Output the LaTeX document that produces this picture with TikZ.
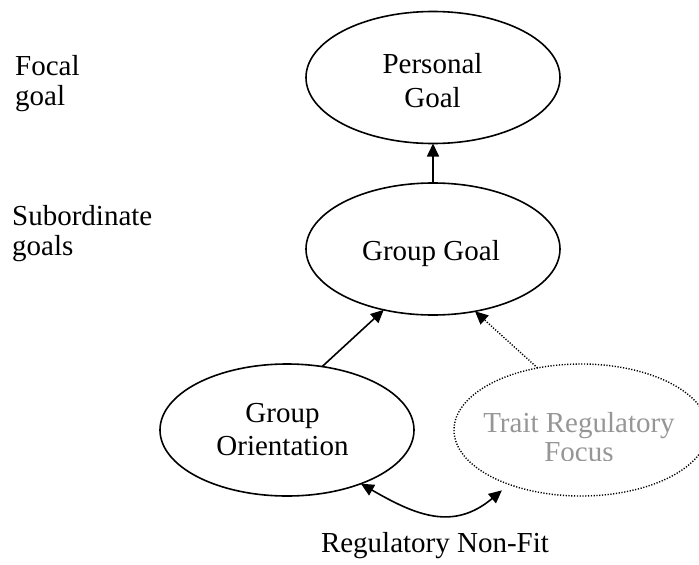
\documentclass[tikz,border=0pt]{standalone}
\usepackage{fontspec}
\setmainfont{Liberation Serif}
\usetikzlibrary{arrows.meta,shapes.geometric}
\definecolor{faded}{RGB}{150,150,150}
\begin{document}
\begin{tikzpicture}[x=1pt,y=1pt,
  goal/.style={draw, ellipse, line width=1.6pt, minimum width=254pt,
    minimum height=132pt, inner sep=0pt, outer sep=0pt},
  traitbox/.style={goal, line width=1.4pt, dash pattern=on 1.2pt off 1.6pt},
  txt/.style={font=\fontsize{29}{34}\selectfont, inner sep=0pt, anchor=base},
  lbl/.style={txt, anchor=base west},
  link/.style={line width=1.6pt, -{Triangle[length=13pt,width=12pt]}},
  softlink/.style={line width=1.4pt, dash pattern=on 1.2pt off 1.6pt,
    -{Triangle[length=13pt,width=12pt]}},
  fitlink/.style={line width=1.6pt,
    {Triangle[length=13pt,width=12pt]}-{Triangle[length=13pt,width=12pt]}}]
\useasboundingbox (0,0) rectangle (699,-565);

% goal hierarchy
\node[goal] (pg) at (433,-77.5) {};
\node[goal] (gg) at (433,-249) {};
\node[goal] (go) at (287,-430) {};
\node[traitbox] (tr) at (581,-430) {};

% ellipse texts
\node[txt] (pg1) at (432.5,-73) {Personal};
\node[txt] (pg2) at (432.5,-107) {Goal};
\node[txt] (gg1) at (431,-260) {Group Goal};
\node[txt] (go1) at (282.5,-422) {Group};
\node[txt] (go2) at (282.5,-455) {Orientation};
\begin{scope}
  \clip (440,-400) rectangle (699,-460);
  \node[txt, text=faded] (tr1) at (579,-432) {Trait Regulatory};
  \node[txt, text=faded] (tr2) at (579,-461) {Focus};
\end{scope}

% level labels
\node[lbl] (l1) at (15,-75) {Focal};
\node[lbl] (l2) at (15,-105) {goal};
\node[lbl] (l3) at (12,-225) {Subordinate};
\node[lbl] (l4) at (12,-255) {goals};
\node[txt] (fit) at (435,-552) {Regulatory Non-Fit};

% connectors
\draw[link] (gg.north) -- (pg.south);
\draw[link] (go.61) -- (gg.-129.4);
\draw[softlink] (tr.125.3) -- (gg.-56.3);
\coordinate (fitend) at ([shift={(-7,-6)}]tr.-143);
\draw[fitlink] (go.-36.5) to[out=-30,in=-140,looseness=1.15] (fitend);
\end{tikzpicture}
\end{document}
